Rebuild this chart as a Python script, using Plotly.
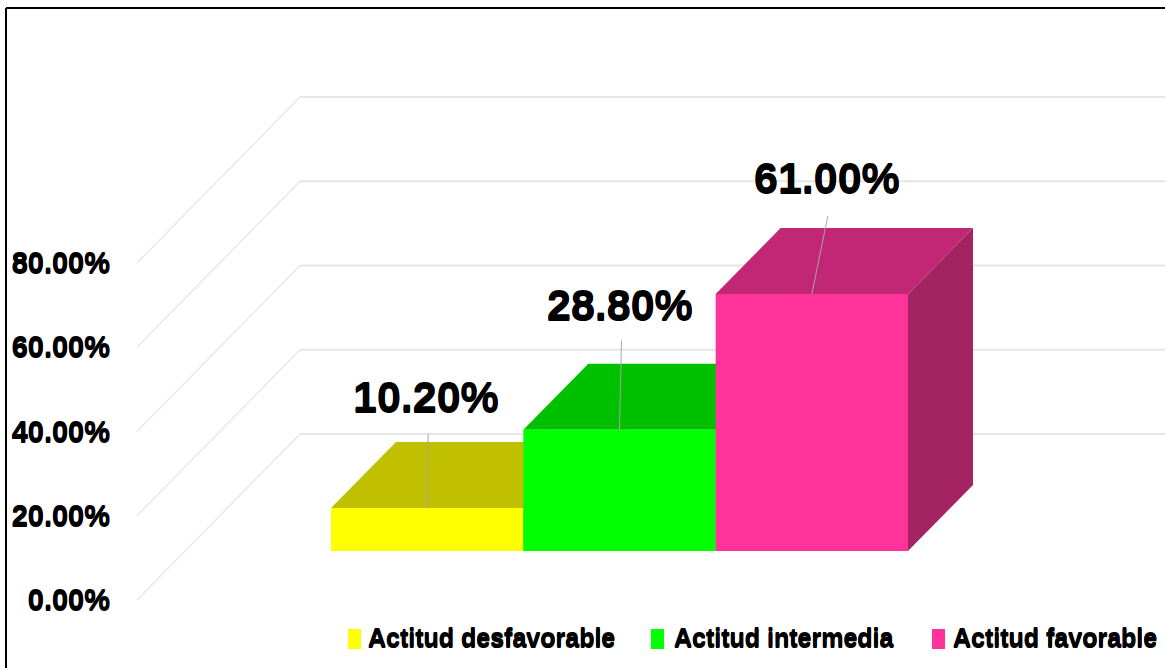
"""
Grafico de barras con apariencia 3D: actitud en tres categorias.
"""

import plotly.graph_objects as go

# datos
CATEGORIES = ['Actitud desfavorable', 'Actitud intermedia', 'Actitud favorable']
VALUES = [10.2, 28.8, 61.0]
Y_TICKS = [0, 20, 40, 60, 80]

# colores (frente, tapa, lateral)
FRONT_COLORS = ['#FFFF00', '#00FF00', '#FF3399']
TOP_COLORS = ['#C0C000', '#00C000', '#C22775']
SIDE_COLORS = ['#808000', '#008000', '#A32363']
GRID_COLOR = '#E6E6E6'
LEADER_COLOR = '#A6A6A6'
FONT = 'Liberation Sans'
# el original tiene letra mas alta y gruesa: se estira con una sombra vertical
SHADOW = '0 1px 0 #000, 0 -1px 0 #000'

# geometria de la figura
WIDTH, HEIGHT = 1165, 668
LEFT, RIGHT, TOP, BOTTOM = 137, 1165, 90, 600
PX_PER_CAT = 192.33
PX_PER_PCT = 4.2125
X_RANGE = [-0.5 - (331 - LEFT) / PX_PER_CAT, -0.5 + (RIGHT - 331) / PX_PER_CAT]
Y_RANGE = [0, (BOTTOM - TOP) / PX_PER_PCT]

# profundidad de la pared y de las barras
WALL_DX, WALL_DY = 163 / PX_PER_CAT, 166 / PX_PER_PCT
BAR_DX, BAR_DY = 65 / PX_PER_CAT, 66 / PX_PER_PCT
BAR_BASE = 49 / PX_PER_PCT

# posicion de etiquetas y lineas guia respecto a la cara frontal (px)
LABEL_SHIFTS = [(-1, 111), (1, 125), (15, 116)]
LEADER_ENDS = [(1, 74), (2, 89), (16, 78)]

# leyenda (px)
LEGEND_SWATCH_X = [348, 651, 932]
LEGEND_TEXT_X = [367, 673, 952]


def paper_x(px):
    return (px - LEFT) / (RIGHT - LEFT)


def paper_y(px):
    return (BOTTOM - px) / (BOTTOM - TOP)


fig = go.Figure()

# rejilla: diagonal sobre el lateral y horizontal sobre la pared del fondo
diag_x, diag_y, back_x, back_y = [], [], [], []
for t in Y_TICKS:
    diag_x += [X_RANGE[0], X_RANGE[0] + WALL_DX, None]
    diag_y += [t, t + WALL_DY, None]
    back_x += [X_RANGE[0] + WALL_DX, X_RANGE[1], None]
    back_y += [t + WALL_DY, t + WALL_DY, None]
fig.add_trace(go.Scatter(x=diag_x, y=diag_y, mode='lines', showlegend=False, hoverinfo='skip',
                         line=dict(color=GRID_COLOR, width=1.3)))
fig.add_trace(go.Scatter(x=back_x, y=back_y, mode='lines', showlegend=False, hoverinfo='skip',
                         line=dict(color=GRID_COLOR, width=2)))

# tapa y lateral de cada barra
for i, v in enumerate(VALUES):
    x0, x1 = i - 0.5, i + 0.5
    y0, y1 = BAR_BASE, BAR_BASE + v
    fig.add_trace(go.Scatter(
        x=[x1, x1 + BAR_DX, x1 + BAR_DX, x1, x1],
        y=[y0, y0 + BAR_DY, y1 + BAR_DY, y1, y0],
        mode='lines', fill='toself', fillcolor=SIDE_COLORS[i], line=dict(width=0),
        showlegend=False, hoverinfo='skip'))
    fig.add_trace(go.Scatter(
        x=[x0, x0 + BAR_DX, x1 + BAR_DX, x1, x0],
        y=[y1, y1 + BAR_DY, y1 + BAR_DY, y1, y1],
        mode='lines', fill='toself', fillcolor=TOP_COLORS[i], line=dict(width=0),
        showlegend=False, hoverinfo='skip'))

# cara frontal: en ejes superpuestos para que quede encima de tapas y laterales
for i, v in enumerate(VALUES):
    fig.add_trace(go.Bar(x=[i], y=[v], base=BAR_BASE, width=1, name=CATEGORIES[i],
                         marker=dict(color=FRONT_COLORS[i], line=dict(width=0)),
                         xaxis='x2', yaxis='y2', hoverinfo='skip', showlegend=False))

# lineas guia y etiquetas
for i, v in enumerate(VALUES):
    top = BAR_BASE + v
    end_dx, end_dy = LEADER_ENDS[i]
    fig.add_trace(go.Scatter(x=[i, i + end_dx / PX_PER_CAT], y=[top, top + end_dy / PX_PER_PCT],
                             mode='lines', line=dict(color=LEADER_COLOR, width=1),
                             xaxis='x2', yaxis='y2', showlegend=False, hoverinfo='skip'))
    fig.add_annotation(x=i, y=top, text=f'<b>{v:.2f}%</b>', showarrow=False,
                       xshift=LABEL_SHIFTS[i][0], yshift=LABEL_SHIFTS[i][1],
                       font=dict(family=FONT, size=43, color='black', shadow=SHADOW))

# leyenda
for name, color, sx, tx in zip(CATEGORIES, FRONT_COLORS, LEGEND_SWATCH_X, LEGEND_TEXT_X):
    fig.add_shape(type='rect', xref='paper', yref='paper', x0=paper_x(sx), x1=paper_x(sx + 13),
                  y0=paper_y(649), y1=paper_y(629), fillcolor=color, line=dict(width=0))
    fig.add_annotation(xref='paper', yref='paper', x=paper_x(tx), y=paper_y(638), text=f'<b>{name}</b>',
                       showarrow=False, xanchor='left', yanchor='middle', borderpad=0,
                       font=dict(family=FONT, size=25, color='black', shadow=SHADOW))

# marco de la imagen
frame = dict(type='line', xref='paper', yref='paper', line=dict(color='black', width=2))
fig.add_shape(x0=paper_x(6), x1=paper_x(WIDTH), y0=paper_y(8), y1=paper_y(8), **frame)
fig.add_shape(x0=paper_x(6), x1=paper_x(6), y0=paper_y(8), y1=paper_y(HEIGHT), **frame)

fig.update_layout(
    width=WIDTH, height=HEIGHT, autosize=False,
    margin=dict(l=LEFT, r=WIDTH - RIGHT, t=TOP, b=HEIGHT - BOTTOM, autoexpand=False),
    paper_bgcolor='white', plot_bgcolor='white', barmode='overlay', showlegend=False,
    font=dict(family=FONT, color='black'),
    xaxis=dict(range=X_RANGE, visible=False, fixedrange=True),
    yaxis=dict(range=Y_RANGE, tickvals=Y_TICKS, ticktext=[f'<b>{t:.2f}%</b>' for t in Y_TICKS],
               showgrid=False, zeroline=False, showline=False, ticks='', ticklabelstandoff=26,
               tickfont=dict(size=29, color='black', shadow=SHADOW), fixedrange=True),
    xaxis2=dict(overlaying='x', matches='x', visible=False),
    yaxis2=dict(overlaying='y', matches='y', visible=False),
)

fig.write_html("out.html", config=dict(displayModeBar=False),
               post_script="document.body.style.margin='0';document.body.style.overflow='hidden';")
